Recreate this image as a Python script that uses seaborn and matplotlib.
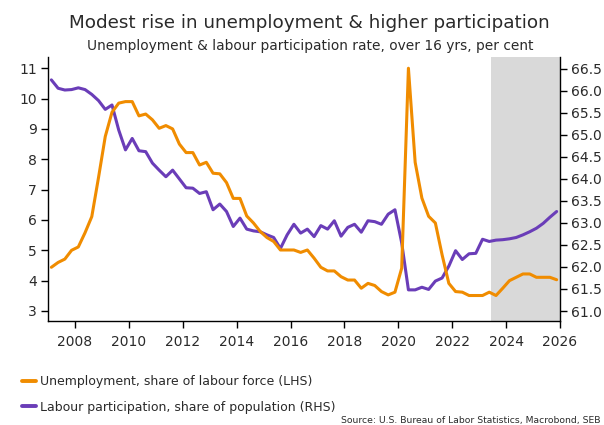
import numpy as np
import pandas as pd
import matplotlib
matplotlib.use("Agg")
import matplotlib.pyplot as plt
from matplotlib.lines import Line2D
import seaborn as sns

# Quarterly observations, 2007Q1 - 2025Q4 (forecast from mid-2023)
quarters = pd.period_range("2007Q1", "2025Q4", freq="Q")

unemployment = [
    4.44, 4.60, 4.71, 5.00,
    5.11, 5.58, 6.11, 7.40,
    8.75, 9.55, 9.85, 9.90,
    9.90, 9.43, 9.49, 9.30,
    9.02, 9.11, 9.00, 8.50,
    8.22, 8.22, 7.81, 7.90,
    7.54, 7.52, 7.23, 6.71,
    6.71, 6.13, 5.90, 5.62,
    5.42, 5.29, 5.01, 5.01,
    5.01, 4.93, 5.01, 4.74,
    4.44, 4.32, 4.32, 4.13,
    4.02, 4.02, 3.75, 3.91,
    3.84, 3.64, 3.53, 3.62,
    4.41, 11.00, 7.90, 6.72,
    6.12, 5.90, 4.85, 3.91,
    3.64, 3.62, 3.51, 3.51,
    3.51, 3.62, 3.51, 3.75,
    4.00, 4.11, 4.22, 4.22,
    4.11, 4.11, 4.11, 4.03,
]

participation = [
    66.25, 66.06, 66.02, 66.03,
    66.07, 66.03, 65.92, 65.78,
    65.58, 65.68, 65.11, 64.66,
    64.92, 64.64, 64.62, 64.36,
    64.20, 64.05, 64.20, 64.00,
    63.80, 63.79, 63.67, 63.71,
    63.30, 63.43, 63.26, 62.92,
    63.11, 62.86, 62.82, 62.80,
    62.73, 62.67, 62.42, 62.73,
    62.97, 62.77, 62.86, 62.69,
    62.94, 62.86, 63.05, 62.70,
    62.90, 62.97, 62.79, 63.05,
    63.03, 62.97, 63.20, 63.30,
    62.55, 61.48, 61.48, 61.54,
    61.49, 61.68, 61.75, 62.02,
    62.37, 62.17, 62.30, 62.31,
    62.63, 62.58, 62.61, 62.62,
    62.64, 62.67, 62.73, 62.80,
    62.88, 62.99, 63.13, 63.26,
]

forecast_start = 2023.45
year_ticks = list(range(2008, 2027, 2))
left_ticks = list(range(3, 12))
right_ticks = [61.0, 61.5, 62.0, 62.5, 63.0, 63.5, 64.0, 64.5, 65.0, 65.5, 66.0, 66.5]

title = "Modest rise in unemployment & higher participation"
subtitle = "Unemployment & labour participation rate, over 16 yrs, per cent"
label_unemp = "Unemployment, share of labour force (LHS)"
label_part = "Labour participation, share of population (RHS)"
source = "Source: U.S. Bureau of Labor Statistics, Macrobond, SEB"

ORANGE = "#F08C00"
PURPLE = "#6A3DB8"
SHADE = "#D9D9D9"
TEXT = "#2a2a2a"

df = pd.DataFrame({
    "t": quarters.year + (quarters.quarter - 0.5) / 4.0,
    "unemployment": unemployment,
    "participation": participation,
})

sns.set_theme(style="ticks")
plt.rcParams["font.family"] = ["DejaVu Sans"]
plt.rcParams["text.color"] = TEXT

fig = plt.figure(figsize=(6.04, 4.25), dpi=100)
ax = fig.add_axes([48 / 604, 1 - 321 / 425, (560 - 48) / 604, (321 - 57) / 425])
ax2 = ax.twinx()

# forecast shading and participation on the back axis
ax2.axvspan(forecast_start, 2026.0, color=SHADE, lw=0, zorder=0)
sns.lineplot(data=df, x="t", y="participation", ax=ax2, color=PURPLE, lw=2.2, zorder=3)
# unemployment on the front axis
sns.lineplot(data=df, x="t", y="unemployment", ax=ax, color=ORANGE, lw=2.2, zorder=3)
ax.set_zorder(ax2.get_zorder() + 1)
ax.patch.set_visible(False)
ax2.patch.set_visible(True)
ax2.patch.set_facecolor("white")

ax.set_xlim(2007.0, 2026.0)
ax.set_ylim(2.67, 11.37)
ax2.set_ylim(60.773, 66.77)

ax.set_xticks(year_ticks)
ax.set_xticklabels([str(y) for y in year_ticks])
ax.set_yticks(left_ticks)
ax.set_yticklabels([str(v) for v in left_ticks])
ax2.set_yticks(right_ticks)
ax2.set_yticklabels([f"{v:.1f}" for v in right_ticks])

for a in (ax, ax2):
    a.set_xlabel("")
    a.set_ylabel("")
    a.spines["top"].set_visible(False)
    for s in a.spines.values():
        s.set_color("black")
        s.set_linewidth(1.0)
    a.tick_params(colors="black", labelcolor=TEXT, labelsize=10, length=5, width=1)
ax.spines["right"].set_visible(False)
ax2.spines["left"].set_visible(False)
ax2.spines["bottom"].set_visible(False)
ax.tick_params(axis="y", pad=3)
ax.tick_params(axis="x", pad=5)
ax2.tick_params(axis="y", pad=3)

fig.text(0.513, 1 - 23 / 425, title, ha="center", va="center", fontsize=13.2)
fig.text(0.513, 1 - 46 / 425, subtitle, ha="center", va="center", fontsize=9.9)

handles = [Line2D([0], [0], color=ORANGE, lw=2.8), Line2D([0], [0], color=PURPLE, lw=2.8)]
fig.legend(handles, [label_unemp, label_part], loc="upper left",
           bbox_to_anchor=(22 / 604, 1 - 375 / 425), frameon=False, fontsize=9.0,
           handlelength=1.1, handletextpad=0.35, labelspacing=1.0, borderpad=0, borderaxespad=0)

fig.text(0.995, 1 - 421 / 425, source, ha="right", va="center", fontsize=6.7, color=TEXT)

fig.savefig("out.png", dpi=100)
